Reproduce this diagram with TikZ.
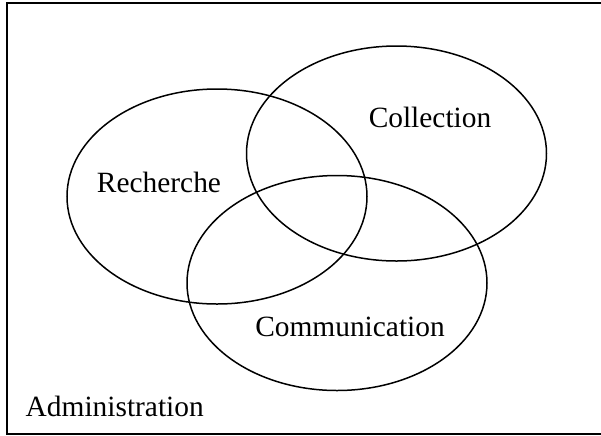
\documentclass[tikz,border=0pt]{standalone}
\usepackage{fontspec}
\setmainfont{Liberation Serif}
\usetikzlibrary{shapes,positioning}

\begin{document}
\begin{tikzpicture}[
        x=0.5pt, y=-0.5pt,
        every path/.style={line width=0.75pt},
        area/.style={draw, ellipse, inner sep=0pt, minimum width=150pt, minimum height=107.5pt},
        label/.style={anchor=base, inner sep=0pt, font=\fontsize{14.7}{17}\selectfont}
    ]
  \useasboundingbox (0,0) rectangle (601,435);

  % Frame
  \coordinate (topright) at (601,3);
  \coordinate (topleft) at (7,3);
  \coordinate (bottomleft) at (7,434);
  \coordinate (bottomright) at (601,434);
  \draw (topright) -- (topleft) -- (bottomleft) -- (bottomright);

  % Nodes
  \node (recherche) [area] at (217,196.5) {};
  \node (collection) [area] at (396.5,153.5) {};
  \node (communication) [area] at (337,283) {};

  \node (lrech) [label] at (159,192) {Recherche};
  \node (lcoll) [label] at (430,127) {Collection};
  \node (lcomm) [label] at (350,336) {Communication};
  \node (ladmin) [label, anchor=base west] at (25,416) {Administration};
\end{tikzpicture}
\end{document}
